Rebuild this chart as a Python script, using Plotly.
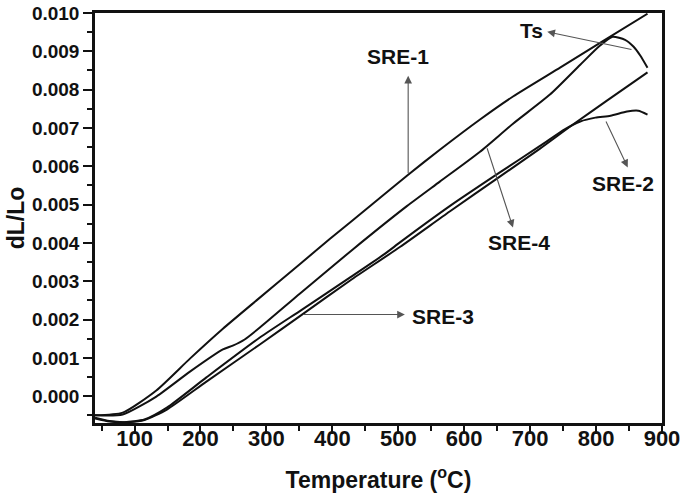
import plotly.graph_objects as go

# ---- data ----
sre1_T = [40, 82, 133, 184, 234, 285, 351, 396, 460, 515, 563, 624, 674, 746, 806, 878]
sre1_v = [-0.00050, -0.00043, 0.00015, 0.00098, 0.00176, 0.00250, 0.00345, 0.00410,
          0.00500, 0.00578, 0.00643, 0.00722, 0.00782, 0.00858, 0.00922, 0.00998]

sre4_T = [40, 82, 133, 184, 234, 249, 267, 290, 351, 431, 513, 563, 624, 674, 730,
          776, 806, 825, 844, 857, 867, 878]
sre4_v = [-0.00050, -0.00048, -0.00001, 0.00064, 0.00122, 0.00132, 0.00148, 0.00179,
          0.00268, 0.00383, 0.00496, 0.00560, 0.00638, 0.00711, 0.00787, 0.00865,
          0.00915, 0.00938, 0.00930, 0.00912, 0.00889, 0.00857]

sre3_T = [40, 62, 85, 115, 149, 209, 290, 354, 427, 503, 578, 654, 715, 765, 817, 878]
sre3_v = [-0.00058, -0.00066, -0.00068, -0.00062, -0.00035, 0.00038, 0.00135, 0.00213,
          0.00302, 0.00390, 0.00482, 0.00573, 0.00646, 0.00709, 0.00772, 0.00845]

sre2_T = [40, 62, 85, 115, 149, 209, 290, 354, 427, 480, 503, 578, 654, 715, 753, 776,
          799, 822, 847, 864, 878]
sre2_v = [-0.00056, -0.00065, -0.00068, -0.00061, -0.00030, 0.00049, 0.00153, 0.00226,
          0.00310, 0.00372, 0.00402, 0.00496, 0.00584, 0.00653, 0.00697, 0.00717,
          0.00727, 0.00732, 0.00743, 0.00745, 0.00735]

x_ticks = [100, 200, 300, 400, 500, 600, 700, 800, 900]
y_ticks = [0.000, 0.001, 0.002, 0.003, 0.004, 0.005, 0.006, 0.007, 0.008, 0.009, 0.010]

FONT = "Liberation Sans, Arial, sans-serif"
INK = "#111111"
LINE = dict(color=INK, width=2, shape="spline", smoothing=0.6)

fig = go.Figure()
for name, T, v in [("SRE-1", sre1_T, sre1_v), ("SRE-4", sre4_T, sre4_v),
                   ("SRE-3", sre3_T, sre3_v), ("SRE-2", sre2_T, sre2_v)]:
    fig.add_trace(go.Scatter(x=T, y=v, mode="lines", name=name, line=LINE,
                             showlegend=False, hoverinfo="x+y+name"))
# carrier (no visible marks) for the tick-label axis x2
fig.add_trace(go.Scatter(x=x_ticks, y=[None] * len(x_ticks), xaxis="x2", yaxis="y",
                         mode="lines", showlegend=False, hoverinfo="skip"))

ARROW = dict(showarrow=True, arrowhead=2, arrowsize=1.4, arrowwidth=1.1,
             arrowcolor="#555555", axref="x", ayref="y", text="", standoff=0,
             startstandoff=0)
# (head x, head y, tail x, tail y)
arrows = [
    (515, 0.00836, 515, 0.00578),   # SRE-1
    (726, 0.00951, 856, 0.00904),   # Ts
    (674, 0.00440, 634, 0.00651),   # SRE-4
    (848, 0.00597, 814, 0.00721),   # SRE-2
    (510, 0.00213, 354, 0.00213),   # SRE-3
]
for hx, hy, tx, ty in arrows:
    fig.add_annotation(x=hx, y=hy, ax=tx, ay=ty, **ARROW)

LBL = dict(showarrow=False, font=dict(family=FONT, size=21, color=INK, weight="bold"))
labels = [
    ("SRE-1", 500, 0.00886, "center"),
    ("Ts", 722, 0.00955, "right"),
    ("SRE-4", 683, 0.00401, "center"),
    ("SRE-2", 841, 0.00554, "center"),
    ("SRE-3", 518, 0.00207, "left"),
]
for t, x, y, xa in labels:
    fig.add_annotation(x=x, y=y, text=t, xanchor=xa, yanchor="middle", **LBL)

fig.update_yaxes(range=[-0.0007, 0.0100], tickvals=y_ticks, tickformat=".3f", ticks="outside",
                 ticklen=9, tickwidth=2, tickcolor=INK, showline=True, linewidth=2.5,
                 linecolor=INK, mirror=True, showgrid=False, zeroline=False, automargin=False,
                 minor=dict(dtick=0.0005, tick0=0, ticks="outside", ticklen=5, tickwidth=2, tickcolor=INK),
                 tickfont=dict(family=FONT, size=19, color=INK, weight="bold"),
                 title=dict(text="dL/Lo", standoff=1,
                            font=dict(family=FONT, size=23, color=INK, weight="bold")))

fig.update_layout(
    # main x axis: frame and tick marks
    xaxis=dict(range=[40, 900], tickvals=x_ticks, ticks="outside", ticklen=8, tickwidth=2,
               tickcolor=INK, showline=True, linewidth=2.5, linecolor=INK, mirror=True,
               showgrid=False, zeroline=False, automargin=False, showticklabels=False,
               minor=dict(dtick=50, tick0=0, ticks="outside", ticklen=5, tickwidth=2, tickcolor=INK)),
    # matching axis carrying the tick labels and title
    xaxis2=dict(overlaying="x", matches="x", anchor="free", position=0, side="bottom",
                range=[40, 900], tickvals=x_ticks, ticks="", showline=False, showgrid=False,
                zeroline=False, automargin=False,
                tickfont=dict(family=FONT, size=22, color=INK, weight="bold"),
                title=dict(text="Temperature (<sup>o</sup>C)", standoff=21,
                           font=dict(family=FONT, size=23, color=INK, weight="bold"))),
    width=685, height=500, margin=dict(l=95, r=23, t=13, b=77, autoexpand=False),
    paper_bgcolor="white", plot_bgcolor="white")

fig.write_html("out.html", config={"displayModeBar": False},
               post_script="document.body.style.margin='0px';")
